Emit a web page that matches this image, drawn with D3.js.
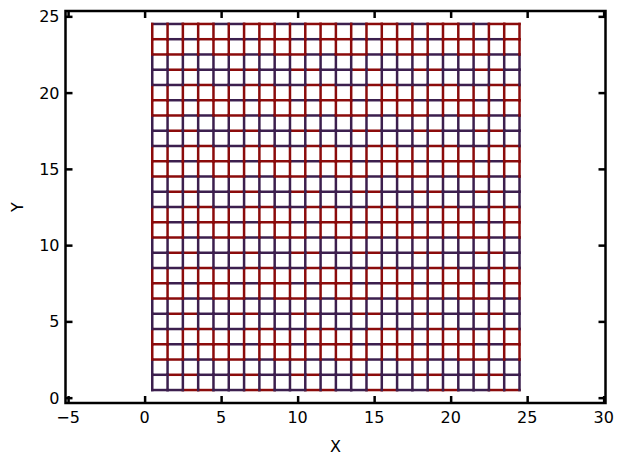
<!DOCTYPE html>
<html>
<head>
<meta charset="utf-8">
<script src="https://cdn.jsdelivr.net/npm/d3@7"></script>
<style>
  body { margin: 0; background: #fff; }
  text { font-family: "DejaVu Sans", sans-serif; fill: #000; }
</style>
</head>
<body>
<script>
// Grid line positions (data units)
var gridX = [0.5, 1.5, 2.5, 3.5, 4.5, 5.5, 6.5, 7.5, 8.5, 9.5, 10.5, 11.5, 12.5,
             13.5, 14.5, 15.5, 16.5, 17.5, 18.5, 19.5, 20.5, 21.5, 22.5, 23.5, 24.5];
var gridY = [0.5, 1.5, 2.5, 3.5, 4.5, 5.5, 6.5, 7.5, 8.5, 9.5, 10.5, 11.5, 12.5,
             13.5, 14.5, 15.5, 16.5, 17.5, 18.5, 19.5, 20.5, 21.5, 22.5, 23.5, 24.5];

// Colour cycle the segments go through
var colorCycle = ["#3c1f4e", "#3c1f4e", "#8b0b0b", "#8b0b0b"];

// Tick labels
var xTicks = [-5, 0, 5, 10, 15, 20, 25, 30];
var yTicks = [0, 5, 10, 15, 20, 25];

var width = 623, height = 465;
// plot box (note: "top" is reserved on window, so use other names)
var pLeft = 65.5, pRight = 605.5, pTop = 11, pBottom = 403;

var svg = d3.select("body").append("svg")
    .attr("width", width)
    .attr("height", height);

var x = d3.scaleLinear().domain([-5.17, 30.12]).range([pLeft, pRight]);
var y = d3.scaleLinear().domain([-0.35, 25.35]).range([pBottom, pTop]);

// Build segments: horizontals column by column, verticals column by column
var hSegs = [];
for (var c = 0; c < gridX.length - 1; c++) {
  for (var l = 0; l < gridY.length; l++) {
    hSegs.push({x1: gridX[c], x2: gridX[c + 1], y1: gridY[l], y2: gridY[l],
                color: colorCycle[hSegs.length % colorCycle.length]});
  }
}
var vSegs = [];
for (var col = 0; col < gridX.length; col++) {
  for (var r = 0; r < gridY.length - 1; r++) {
    vSegs.push({x1: gridX[col], x2: gridX[col], y1: gridY[r], y2: gridY[r + 1],
                color: colorCycle[vSegs.length % colorCycle.length]});
  }
}

var plot = svg.append("g");
plot.selectAll("line.seg")
    .data(hSegs.concat(vSegs))
    .enter().append("line")
    .attr("class", "seg")
    .attr("x1", function(d) { return x(d.x1); })
    .attr("x2", function(d) { return x(d.x2); })
    .attr("y1", function(d) { return y(d.y1); })
    .attr("y2", function(d) { return y(d.y2); })
    .attr("stroke", function(d) { return d.color; })
    .attr("stroke-width", 2.5)
    .attr("stroke-linecap", "square");

// Axes with inward ticks on all four sides
function styleAxis(g) {
  g.select(".domain").remove();
  g.selectAll(".tick line").attr("stroke", "#000").attr("stroke-width", 2.5);
  g.selectAll(".tick text").remove();
}

var fmt = function(d) { return d < 0 ? "\u2212" + Math.abs(d) : d; };

svg.append("g")
    .attr("transform", "translate(0," + pBottom + ")")
    .call(d3.axisTop(x).tickValues(xTicks).tickSize(7))
    .call(styleAxis);
svg.append("g")
    .attr("transform", "translate(0," + pTop + ")")
    .call(d3.axisBottom(x).tickValues(xTicks).tickSize(7))
    .call(styleAxis);
svg.append("g")
    .attr("transform", "translate(" + pLeft + ",0)")
    .call(d3.axisRight(y).tickValues(yTicks).tickSize(7))
    .call(styleAxis);
svg.append("g")
    .attr("transform", "translate(" + pRight + ",0)")
    .call(d3.axisLeft(y).tickValues(yTicks).tickSize(7))
    .call(styleAxis);

// Tick labels
svg.append("g").selectAll("text")
    .data(xTicks)
    .enter().append("text")
    .attr("x", function(d) { return x(d); })
    .attr("y", pBottom + 20)
    .attr("text-anchor", "middle")
    .style("font-size", "16px")
    .text(fmt);
svg.append("g").selectAll("text")
    .data(yTicks)
    .enter().append("text")
    .attr("x", pLeft - 6)
    .attr("y", function(d) { return y(d) + 6; })
    .attr("text-anchor", "end")
    .style("font-size", "16px")
    .text(fmt);

// Frame
svg.append("rect")
    .attr("x", pLeft).attr("y", pTop)
    .attr("width", pRight - pLeft).attr("height", pBottom - pTop)
    .attr("fill", "none").attr("stroke", "#000").attr("stroke-width", 2.5);

// Axis labels
svg.append("text")
    .attr("x", (pLeft + pRight) / 2).attr("y", 452)
    .attr("text-anchor", "middle")
    .style("font-size", "16px")
    .text("X");
svg.append("text")
    .attr("transform", "translate(23," + ((pTop + pBottom) / 2) + ") rotate(-90)")
    .attr("text-anchor", "middle")
    .style("font-size", "16px")
    .text("Y");
</script>
</body>
</html>
